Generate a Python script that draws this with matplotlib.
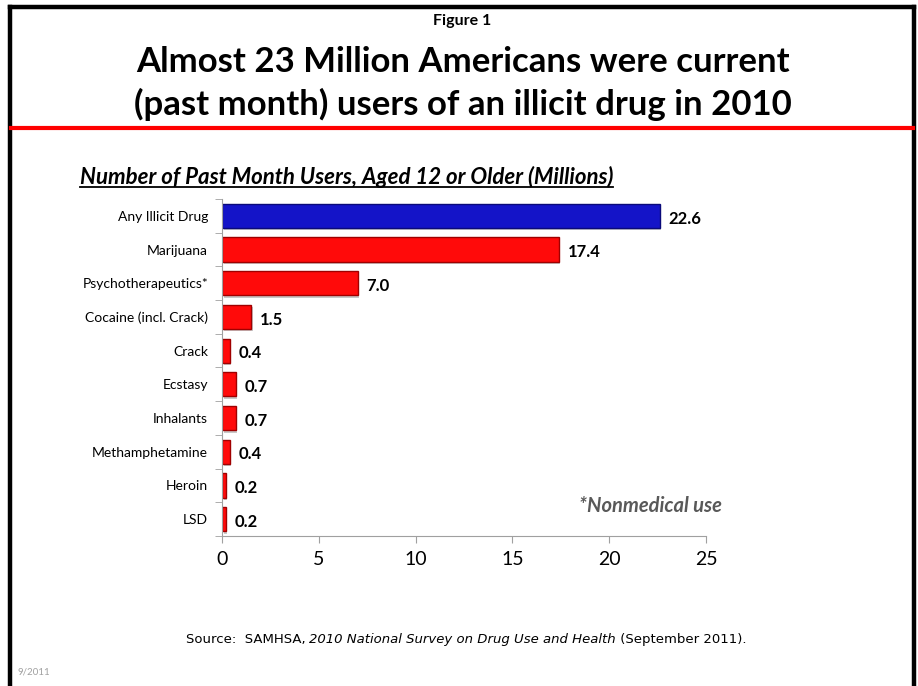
import matplotlib.pyplot as plt
from matplotlib.lines import Line2D

# past month users, aged 12 or older, in millions (2010)
drugs = ['Any Illicit Drug', 'Marijuana', 'Psychotherapeutics*', 'Cocaine (incl. Crack)',
         'Crack', 'Ecstasy', 'Inhalants', 'Methamphetamine', 'Heroin', 'LSD']
users = [22.6, 17.4, 7.0, 1.5, 0.4, 0.7, 0.7, 0.4, 0.2, 0.2]
bar_colors = ['#1414c8'] + ['#ff0a0a'] * 9
edge_colors = ['#0a0a7a'] + ['#a00000'] * 9
xticks = [0, 5, 10, 15, 20, 25]

plt.rcParams['font.family'] = ['Lato', 'DejaVu Sans']

fig = plt.figure(figsize=(9.18, 6.86), dpi=100)
W, H = 918, 686

# frame round the slide (no bottom edge)
fig.add_artist(Line2D([10 / W, 10 / W], [0, 1 - 7 / H], color='black', lw=3.2))
fig.add_artist(Line2D([914 / W, 914 / W], [0, 1 - 7 / H], color='black', lw=3.2))
fig.add_artist(Line2D([10 / W, 914 / W], [1 - 7 / H, 1 - 7 / H], color='black', lw=3.2))
# red rule under the heading
fig.add_artist(Line2D([11 / W, 913 / W], [1 - 128 / H, 1 - 128 / H], color='#ff0000', lw=3))

fig.text(462 / W, 1 - 21 / H, 'Figure 1', ha='center', va='center', fontsize=11.5, fontweight='bold')
fig.text(463 / W, 1 - 62 / H, 'Almost 23 Million Americans were current', ha='center', va='center',
         fontsize=25, fontweight='bold')
fig.text(463 / W, 1 - 104 / H, '(past month) users of an illicit drug in 2010', ha='center', va='center',
         fontsize=25, fontweight='bold')

sub = fig.text(80 / W, 1 - 177 / H, 'Number of Past Month Users, Aged 12 or Older (Millions)',
               ha='left', va='center', fontsize=16, fontweight='bold', style='italic')
fig.canvas.draw()
bb = sub.get_window_extent()
fig.add_artist(Line2D([bb.x0 / W, bb.x1 / W], [(bb.y0 + 1) / H, (bb.y0 + 1) / H], color='black', lw=1.3))

ax = fig.add_axes([222 / W, 1 - 536 / H, (706 - 222) / W, (536 - 199) / H])
pos = list(range(len(drugs)))
# soft drop shadow, then the bars
ax.barh([p + 0.07 for p in pos], users, left=0.08, height=0.72, color='#c8c8c8', zorder=1)
ax.barh(pos, users, height=0.72, color=bar_colors, edgecolor=edge_colors, linewidth=1.0, zorder=2)
for y, v in zip(pos, users):
    ax.text(v + 0.45, y + 0.08, f'{v:.1f}', va='center', ha='left', fontsize=12, fontweight='bold')

ax.set_ylim(len(drugs) - 0.5, -0.5)
ax.set_xlim(0, 25)
ax.set_xticks(xticks)
ax.set_xticklabels([str(t) for t in xticks], fontsize=14)
ax.set_yticks(pos)
ax.set_yticklabels(drugs, fontsize=10)
ax.set_yticks([p + 0.5 for p in range(-1, len(drugs))], minor=True)
ax.tick_params(axis='y', which='major', length=0, pad=10)
ax.tick_params(axis='y', which='minor', length=5, color='#a0a0a0')
ax.tick_params(axis='x', length=5, color='#a0a0a0', pad=6)
for s in ['top', 'right']:
    ax.spines[s].set_visible(False)
for s in ['left', 'bottom']:
    ax.spines[s].set_color('#a0a0a0')

fig.text(650 / W, 1 - 506 / H, '*Nonmedical use', ha='center', va='center', fontsize=14.5,
         fontweight='bold', style='italic', color='#595959')

# source line: plain / italic / plain pieces laid end to end, centred as a whole
pieces = [('Source:  SAMHSA, ', 'normal'), ('2010 National Survey on Drug Use and Health', 'italic'),
          (' (September 2011).', 'normal')]
texts = [fig.text(0, 1 - 640 / H, s, ha='left', va='center', fontsize=9.5, style=st,
                  family=['DejaVu Sans']) for s, st in pieces]
fig.canvas.draw()
widths = [t.get_window_extent().width for t in texts]
x = 466 - sum(widths) / 2
for t, w in zip(texts, widths):
    t.set_x(x / W)
    x += w
fig.text(18 / W, 1 - 672 / H, '9/2011', ha='left', va='center', fontsize=7, color='#a0a0a0')

plt.savefig('out.png', dpi=100)
